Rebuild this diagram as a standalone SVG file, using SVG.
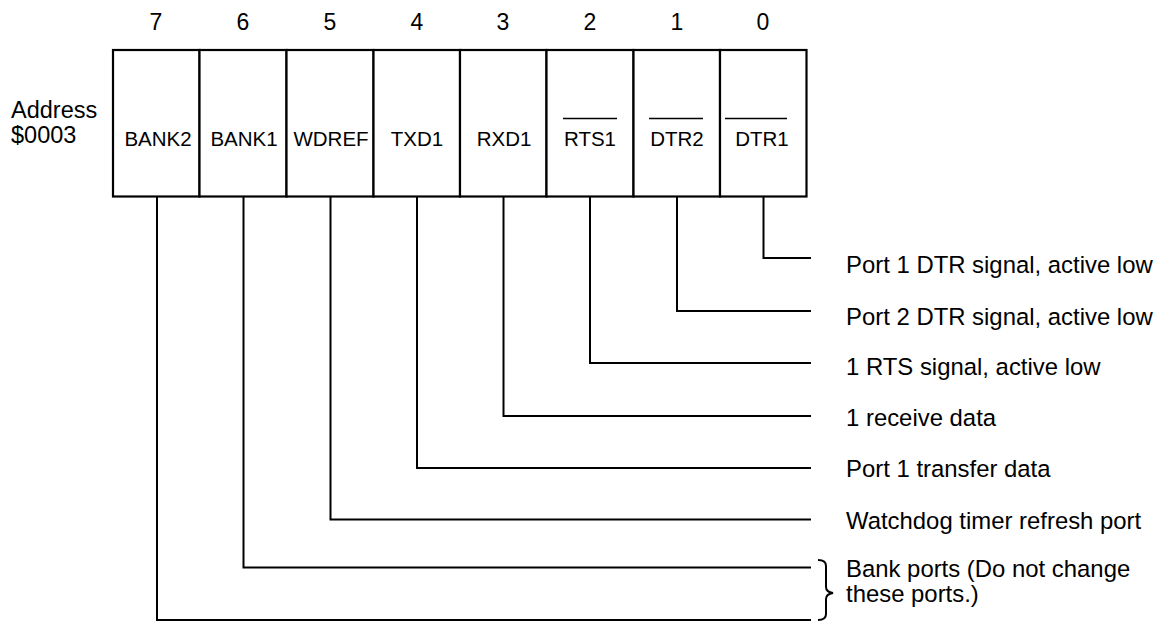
<svg xmlns="http://www.w3.org/2000/svg" width="1161" height="622" viewBox="0 0 1161 622">
<style>
text{font-family:"Liberation Sans",Arial,sans-serif;fill:#000}
.num{font-size:23px;text-anchor:middle}
.cell{font-size:20.5px;text-anchor:middle}
.lbl{font-size:23.5px}
.rl{font-size:23.9px}
.box{fill:#fff;stroke:#000;stroke-width:2.2}
.wire{fill:none;stroke:#000;stroke-width:2}
.bar{stroke:#000;stroke-width:1.3}
</style>
<rect width="1161" height="622" fill="#fff"/>
<g id="address"><text class="lbl" x="11" y="118">Address</text><text class="lbl" x="11" y="143">$0003</text></g>
<g id="bitnums">
<text class="num" x="156" y="30">7</text><text class="num" x="243" y="30">6</text><text class="num" x="330" y="30">5</text><text class="num" x="417" y="30">4</text><text class="num" x="503" y="30">3</text><text class="num" x="590" y="30">2</text><text class="num" x="677" y="30">1</text><text class="num" x="763" y="30">0</text>
</g>
<g id="bit7"><rect class="box" x="113" y="50" width="86.5" height="146.5"/><text class="cell" x="158" y="146">BANK2</text></g>
<g id="bit6"><rect class="box" x="199.5" y="50" width="87" height="146.5"/><text class="cell" x="244" y="146">BANK1</text></g>
<g id="bit5"><rect class="box" x="286.5" y="50" width="87" height="146.5" stroke-width="2.8"/><text class="cell" x="331" y="146">WDREF</text></g>
<g id="bit4"><rect class="box" x="373.5" y="50" width="86.5" height="146.5"/><text class="cell" x="417" y="146">TXD1</text></g>
<g id="bit3"><rect class="box" x="460" y="50" width="86.5" height="146.5"/><text class="cell" x="504" y="146">RXD1</text></g>
<g id="bit2"><rect class="box" x="546.5" y="50" width="87" height="146.5"/><text class="cell" x="590" y="146">RTS1</text><line class="bar" x1="563" y1="118.5" x2="617" y2="118.5"/></g>
<g id="bit1"><rect class="box" x="633.5" y="50" width="86.5" height="146.5"/><text class="cell" x="677" y="146">DTR2</text><line class="bar" x1="649" y1="118.5" x2="703" y2="118.5"/></g>
<g id="bit0"><rect class="box" x="720" y="50" width="86.5" height="146.5"/><text class="cell" x="762" y="146">DTR1</text><line class="bar" x1="725" y1="118.5" x2="787" y2="118.5"/></g>
<g id="connectors">
<polyline class="wire" points="763.5,196.5 763.5,258 811,258"/>
<polyline class="wire" points="677,196.5 677,311 811,311"/>
<polyline class="wire" points="590,196.5 590,363 811,363"/>
<polyline class="wire" points="503.5,196.5 503.5,416 811,416"/>
<polyline class="wire" points="417,196.5 417,468 811,468"/>
<polyline class="wire" points="330.5,196.5 330.5,519.5 811,519.5"/>
<polyline class="wire" points="243.5,196.5 243.5,567.5 811,567.5"/>
<polyline class="wire" points="157,196.5 157,620 811,620"/>
<path class="wire" d="M818,560 Q826,560 826,566 L826,587 Q826,592 833,593 Q826,594 826,599 L826,614 Q826,620 818,620" stroke-width="1.8"/>
</g>
<g id="labels">
<text class="rl" x="846" y="273">Port 1 DTR signal, active low</text>
<text class="rl" x="846" y="325">Port 2 DTR signal, active low</text>
<text class="rl" x="846" y="375">1 RTS signal, active low</text>
<text class="rl" x="846" y="426">1 receive data</text>
<text class="rl" x="846" y="477">Port 1 transfer data</text>
<text class="rl" x="846" y="529">Watchdog timer refresh port</text>
<text class="rl" x="846" y="577">Bank ports (Do not change</text>
<text class="rl" x="846" y="602">these ports.)</text>
</g>
</svg>
